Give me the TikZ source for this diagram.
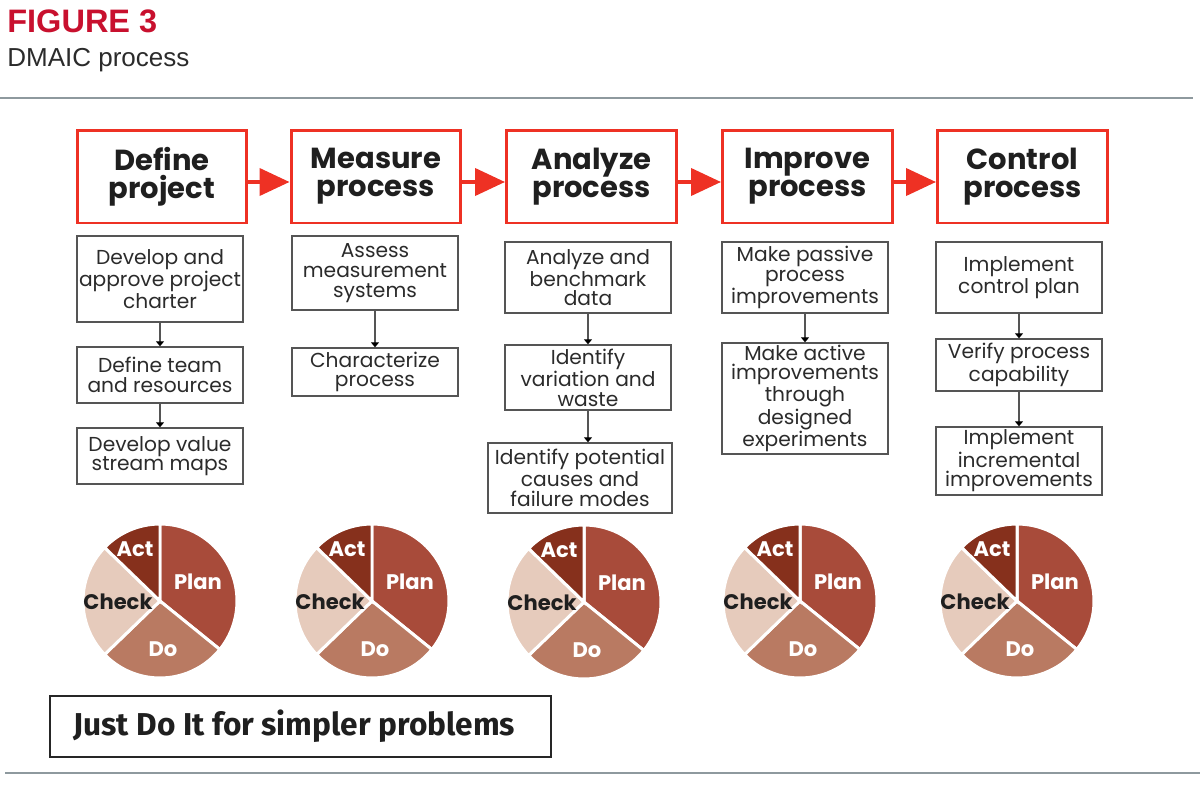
\documentclass[tikz,border=0pt]{standalone}
\usepackage{fontspec}
\setmainfont{Poppins}
\newfontfamily\figfont{Liberation Sans}
\newfontfamily\jdifont{Fira Sans}
\usetikzlibrary{arrows.meta,positioning}
\definecolor{dred}{HTML}{EE3124}
\definecolor{dtitle}{HTML}{C8102E}
\definecolor{dink}{HTML}{2B2B2B}
\definecolor{dgrey}{HTML}{555555}
\definecolor{drule}{HTML}{8E999E}
\definecolor{pplan}{HTML}{A84B3A}
\definecolor{pdo}{HTML}{B97A62}
\definecolor{pcheck}{HTML}{E6CBBC}
\definecolor{pact}{HTML}{86301C}
\tikzset{
  head/.style={draw=dred,line width=1.7pt,fill=white,align=center,minimum width=3.4cm,minimum height=1.86cm,inner sep=2pt,font=\fontsize{16.5}{16}\selectfont\bfseries,text=black!88},
  box/.style={draw=dgrey,line width=0.8pt,fill=white,align=center,minimum width=3.32cm,inner sep=1pt,font=\fontsize{11.5}{11.2}\selectfont,text=dink},
  rarr/.style={-{Triangle[length=0.6cm,width=0.54cm]},line width=0.08cm,draw=dred},
  arr/.style={-{Triangle[length=0.1cm,width=0.16cm,color=black]},line width=0.6pt,draw=dgrey},
  slice/.style={draw=white,line width=1.7pt},
  plbl/.style={font=\fontsize{12}{12}\selectfont\bfseries,text=white,inner sep=0pt},
  rule/.style={draw=drule,line width=1.1pt},
  pdca/.pic={
    \begin{scope}[x=1cm,y=1cm]
      \filldraw[slice,fill=pplan] (0,0) -- (90:1.54) arc[start angle=90,end angle=-39,radius=1.54] -- cycle;
      \filldraw[slice,fill=pdo] (0,0) -- (-39:1.54) arc[start angle=-39,end angle=-136,radius=1.54] -- cycle;
      \filldraw[slice,fill=pcheck] (0,0) -- (-136:1.54) arc[start angle=-136,end angle=-224,radius=1.54] -- cycle;
      \filldraw[slice,fill=pact] (0,0) -- (136:1.54) arc[start angle=136,end angle=90,radius=1.54] -- cycle;
      \node[plbl] (-plan) at (0.76,0.38) {Plan};
      \node[plbl] (-do) at (0.06,-0.96) {Do};
      \node[plbl,text=black!88] (-check) at (-0.84,-0.02) {Check};
      \node[plbl] (-act) at (-0.5,1.04) {Act};
    \end{scope}
  },
}

\begin{document}
\begin{tikzpicture}[x=0.02cm,y=-0.02cm]
  \useasboundingbox (0,0) rectangle (1200,808);
  \node[anchor=base west,inner sep=0pt,font=\figfont\fontsize{18.5}{18}\selectfont\bfseries,text=dtitle] (title) at (7,32) {FIGURE 3};
  \node[anchor=base west,inner sep=0pt,font=\figfont\fontsize{14.8}{14}\selectfont,text=dink] (subtitle) at (7,66) {DMAIC process};
  \draw[rule] (0,98) -- (1193,98);
  \draw[rule] (5,773) -- (1200,773);
  % DMAIC phases
  \node[head] (define) at (162,176.5) {Define\\project};
  \node[head] (measure) at (376,176.5) {Measure\\process};
  \node[head] (analyze) at (591.5,176.5) {Analyze\\process};
  \node[head] (improve) at (807.5,176.5) {Improve\\process};
  \node[head] (control) at (1022.5,176.5) {Control\\process};
  \draw[rarr] ([yshift=-0.11cm]define.east) -- ([yshift=-0.11cm]measure.west);
  \draw[rarr] ([yshift=-0.11cm]measure.east) -- ([yshift=-0.11cm]analyze.west);
  \draw[rarr] ([yshift=-0.11cm]analyze.east) -- ([yshift=-0.11cm]improve.west);
  \draw[rarr] ([yshift=-0.11cm]improve.east) -- ([yshift=-0.11cm]control.west);
  % steps
  \node[box,minimum height=1.72cm] (d1) at (160,279) {Develop and\\approve project\\charter};
  \node[box,minimum height=1.12cm] (d2) at (160,375) {Define team\\and resources};
  \node[box,minimum height=1.12cm] (d3) at (160,456) {Develop value\\stream maps};
  \draw[arr] (d1) -- (d2); \draw[arr] (d2) -- (d3);
  \node[box,minimum height=1.48cm] (m1) at (375,273) {Assess\\measurement\\systems};
  \node[box,minimum height=0.96cm] (m2) at (375,372) {Characterize\\process};
  \draw[arr] (m1) -- (m2);
  \node[box,minimum height=1.42cm] (a1) at (588,277.5) {Analyze and\\benchmark\\data};
  \node[box,minimum height=1.3cm] (a2) at (588,377.5) {Identify\\variation and\\waste};
  \node[box,minimum width=3.68cm,minimum height=1.4cm] (a3) at (580,478) {Identify potential\\causes and\\failure modes};
  \draw[arr] (a1) -- (a2); \draw[arr] (a2.south) -- (a2.south |- a3.north);
  \node[box,minimum height=1.42cm] (i1) at (805,277.5) {Make passive\\process\\improvements};
  \node[box,minimum height=2.1cm] (i2) at (805,398.5) {Make active\\improvements\\through\\designed\\experiments};
  \draw[arr] (i1) -- (i2);
  \node[box,minimum height=1.42cm] (c1) at (1019,277.5) {Implement\\control plan};
  \node[box,minimum height=1.04cm] (c2) at (1019,365) {Verify process\\capability};
  \node[box,minimum height=1.36cm] (c3) at (1019,461) {Implement\\incremental\\improvements};
  \draw[arr] (c1) -- (c2); \draw[arr] (c2) -- (c3);
  % PDCA wheels
  \pic (p1) at (160,601) {pdca};
  \pic (p2) at (372,601) {pdca};
  \pic (p3) at (584,602) {pdca};
  \pic (p4) at (800,601) {pdca};
  \pic (p5) at (1017,601) {pdca};
  \node[draw=black!85,line width=0.8pt,minimum width=10.02cm,minimum height=1.22cm,font=\jdifont\fontsize{18}{18}\selectfont\bfseries,text=black!88] (jdi) at (300.5,726.5) {\hspace*{-0.25cm}Just Do It for simpler problems};
\end{tikzpicture}
\end{document}
